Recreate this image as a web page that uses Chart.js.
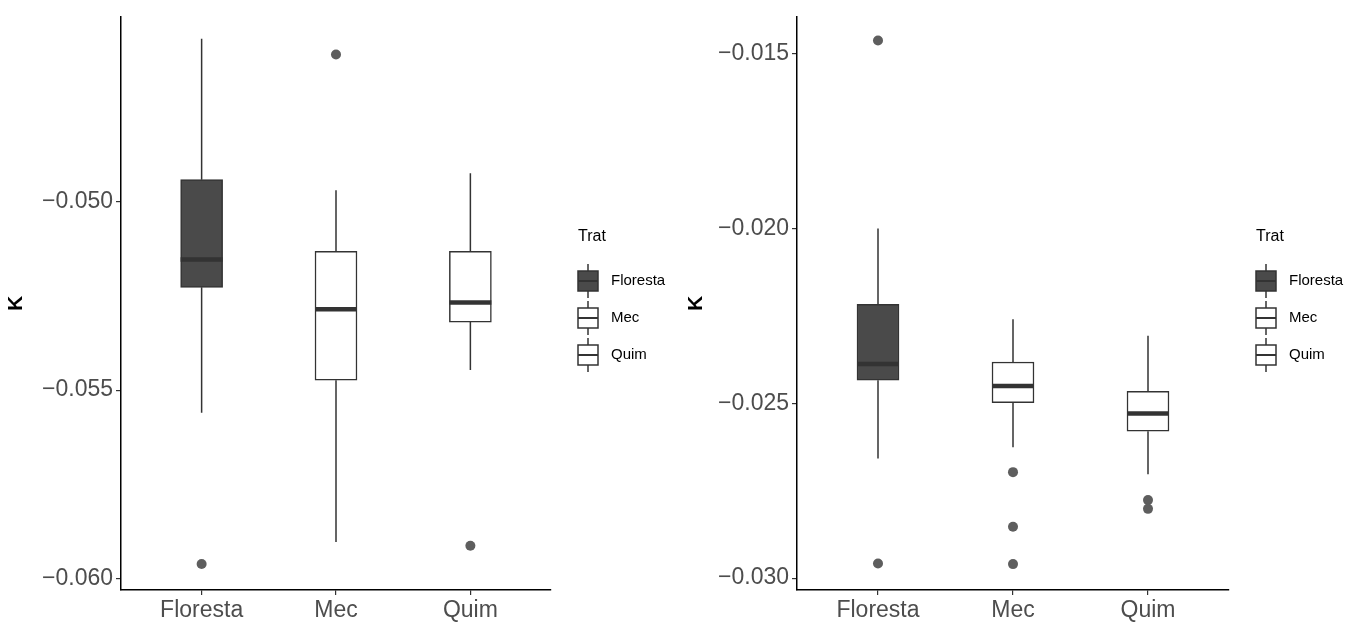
<!DOCTYPE html>
<html>
<head>
<meta charset="utf-8">
<script src="https://cdn.jsdelivr.net/npm/chart.js@4"></script>
<style>
  html, body { margin: 0; padding: 0; background: #fff; }
  #wrap { position: relative; width: 1345px; height: 628px; }
  canvas { position: absolute; top: 0; }
</style>
</head>
<body>
<div id="wrap">
  <canvas id="left" width="680" height="628" style="left:0"></canvas>
  <canvas id="right" width="665" height="628" style="left:680px"></canvas>
</div>
<script>
// --- Data ---
const categories = ['Floresta', 'Mec', 'Quim'];
const fills = ['#4a4a4a', '#ffffff', '#ffffff'];

// left panel
const leftLower   = [-0.05560, -0.05902, -0.05447];
const leftQ1      = [-0.05228, -0.05474, -0.05320];
const leftMedian  = [-0.05154, -0.05286, -0.05268];
const leftQ3      = [-0.04943, -0.05133, -0.05133];
const leftUpper   = [-0.04570, -0.04971, -0.04926];
const leftOutliers = [[-0.05960], [-0.04612], [-0.05912]];
const leftTicks = [-0.060, -0.055, -0.050];
const leftRange = [-0.06029, -0.04512];

// right panel
const rightLower  = [-0.02658, -0.02626, -0.02703];
const rightQ1     = [-0.02434, -0.02498, -0.02580];
const rightMedian = [-0.02388, -0.02451, -0.02529];
const rightQ3     = [-0.02217, -0.02382, -0.02466];
const rightUpper  = [-0.02000, -0.02260, -0.02307];
const rightOutliers = [[-0.01463, -0.02958], [-0.02697, -0.02853, -0.02960], [-0.02777, -0.02802]];
const rightTicks = [-0.030, -0.025, -0.020, -0.015];
const rightRange = [-0.03034, -0.01395];

const FONT = "'Liberation Sans', Arial, sans-serif";
const BOX_W = 42;

// whiskers behind boxes, medians on top
const boxPlugin = {
  id: 'boxParts',
  beforeDatasetsDraw(chart) {
    const s = chart.options.plugins.boxParts;
    const {ctx, scales: {x, y}} = chart;
    ctx.save();
    ctx.strokeStyle = '#333';
    ctx.lineWidth = 1.5;
    categories.forEach((c, i) => {
      const px = x.getPixelForValue(i + 1);
      ctx.beginPath();
      ctx.moveTo(px, y.getPixelForValue(s.q3[i]));
      ctx.lineTo(px, y.getPixelForValue(s.upper[i]));
      ctx.moveTo(px, y.getPixelForValue(s.q1[i]));
      ctx.lineTo(px, y.getPixelForValue(s.lower[i]));
      ctx.stroke();
    });
    ctx.restore();
  },
  afterDatasetsDraw(chart) {
    const s = chart.options.plugins.boxParts;
    const {ctx, scales: {x, y}} = chart;
    ctx.save();
    ctx.strokeStyle = '#333';
    ctx.lineWidth = 4.5;
    categories.forEach((c, i) => {
      const px = x.getPixelForValue(i + 1);
      const py = y.getPixelForValue(s.median[i]);
      ctx.beginPath();
      ctx.moveTo(px - BOX_W / 2, py);
      ctx.lineTo(px + BOX_W / 2, py);
      ctx.stroke();
    });
    ctx.restore();
  },
  afterDraw(chart) {
    // legend "Trat"
    const {ctx, chartArea} = chart;
    const lx = chartArea.right + 27;
    ctx.save();
    ctx.fillStyle = '#000';
    ctx.font = '16px ' + FONT;
    ctx.textBaseline = 'middle';
    ctx.fillText('Trat', lx, 237);
    const ys = [281, 318, 355];
    categories.forEach((c, i) => {
      const cx = lx + 10, cy = ys[i];
      ctx.strokeStyle = '#333';
      ctx.lineWidth = 1.5;
      ctx.beginPath();
      ctx.moveTo(cx, cy - 17); ctx.lineTo(cx, cy + 17);
      ctx.stroke();
      ctx.fillStyle = fills[i];
      ctx.fillRect(cx - 10, cy - 10, 20, 20);
      ctx.strokeRect(cx - 10, cy - 10, 20, 20);
      ctx.lineWidth = 2;
      ctx.beginPath();
      ctx.moveTo(cx - 10, cy); ctx.lineTo(cx + 10, cy);
      ctx.stroke();
      ctx.fillStyle = '#000';
      ctx.font = '15px ' + FONT;
      ctx.fillText(c, lx + 33, cy);
    });
    ctx.restore();
  }
};

function makeChart(id, lower, q1, median, q3, upper, outliers, ticks, range, yWidth, padRight) {
  const outlierPts = [];
  outliers.forEach((arr, i) => arr.forEach(v => outlierPts.push({x: i + 1, y: v})));
  return new Chart(document.getElementById(id), {
    type: 'bar',
    data: {
      datasets: [{
        data: categories.map((c, i) => ({x: i + 1, y: [q1[i], q3[i]]})),
        backgroundColor: fills,
        borderColor: '#333',
        borderWidth: 1.5,
        borderSkipped: false,
        barThickness: BOX_W,
        grouped: false
      }, {
        type: 'scatter',
        data: outlierPts,
        pointRadius: 5,
        pointBackgroundColor: '#5e5e5e',
        pointBorderWidth: 0
      }]
    },
    options: {
      responsive: false,
      animation: false,
      layout: { padding: { top: 14, right: padRight, left: 0, bottom: 0 } },
      plugins: {
        legend: { display: false },
        tooltip: { enabled: false },
        boxParts: { lower, q1, median, q3, upper }
      },
      scales: {
        x: {
          type: 'linear', min: 0.4, max: 3.6, offset: false,
          afterBuildTicks: s => { s.ticks = categories.map((c, i) => ({value: i + 1})); },
          afterFit: s => { s.height = 38; },
          ticks: {
            autoSkip: false, maxRotation: 0, padding: 2,
            color: '#4d4d4d', font: { family: FONT, size: 23 },
            callback: v => categories[Math.round(v) - 1]
          },
          grid: { offset: false, drawOnChartArea: false, drawTicks: true, tickLength: 5, color: '#333', lineWidth: 1.2 },
          border: { color: '#000', width: 1.5 }
        },
        y: {
          min: range[0], max: range[1],
          afterBuildTicks: s => { s.ticks = ticks.map(v => ({value: v})); },
          afterFit: s => { s.width = yWidth; },
          ticks: {
            padding: 3, color: '#4d4d4d', font: { family: FONT, size: 23 },
            callback: v => '\u2212' + Math.abs(v).toFixed(3)
          },
          title: { display: true, text: 'K', color: '#000', font: { family: FONT, size: 21, weight: 'bold' } },
          grid: { drawOnChartArea: false, drawTicks: true, tickLength: 5, color: '#333', lineWidth: 1.2 },
          border: { color: '#000', width: 1.5 }
        }
      }
    },
    plugins: [boxPlugin]
  });
}

makeChart('left', leftLower, leftQ1, leftMedian, leftQ3, leftUpper, leftOutliers, leftTicks, leftRange, 121, 129);
makeChart('right', rightLower, rightQ1, rightMedian, rightQ3, rightUpper, rightOutliers, rightTicks, rightRange, 117, 116);
</script>
</body>
</html>
